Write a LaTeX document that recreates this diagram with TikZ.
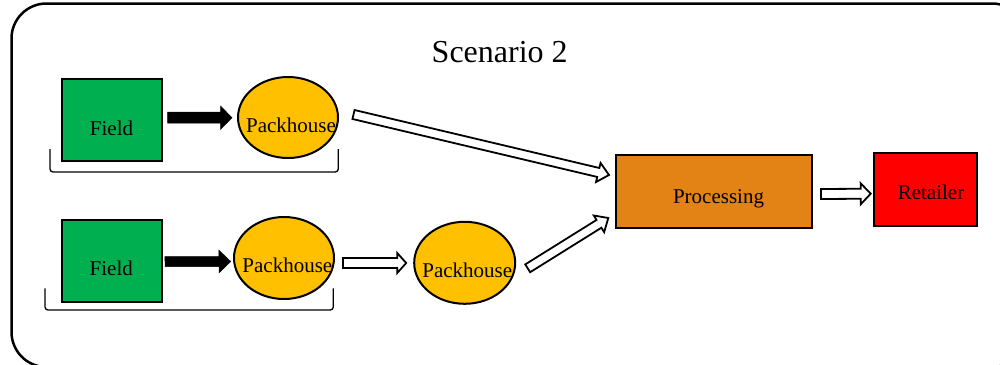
\documentclass[tikz,border=0pt]{standalone}
\usepackage{fontspec}
\setmainfont{Liberation Serif}
\usetikzlibrary{calc,shapes.geometric}
\definecolor{fieldgreen}{RGB}{0,176,80}
\definecolor{packyellow}{RGB}{255,192,0}
\definecolor{procorange}{RGB}{227,131,21}
\definecolor{retred}{RGB}{255,0,0}
% block arrow: [style]{tail}{tip}{body half width}{head half width}{head length}
\newcommand\blockarrow[6][]{%
  \coordinate (bahead) at ($(#3)!#6!(#2)$);
  \draw[#1] ($(#2)!#4!90:(#3)$) -- ($(bahead)!#4!90:(#3)$) -- ($(bahead)!#5!90:(#3)$)
    -- (#3) -- ($(bahead)!#5!-90:(#3)$) -- ($(bahead)!#4!-90:(#3)$)
    -- ($(#2)!#4!-90:(#3)$) -- cycle;
}
\begin{document}
\begin{tikzpicture}[x=1pt,y=-1pt,
  box/.style={draw=black, line width=2pt, rectangle, inner sep=0pt},
  fieldbox/.style={box, fill=fieldgreen, minimum width=100pt, minimum height=82pt},
  packnode/.style={draw=black, line width=2pt, ellipse, inner sep=0pt, fill=packyellow},
  txt/.style={inner sep=0pt, anchor=base, font=\fontsize{21}{24}\selectfont},
  blackarrow/.style={fill=black, draw=black, line width=0.5pt, line join=miter},
  whitearrow/.style={fill=white, draw=black, line width=1.8pt, line join=miter},
  bracket/.style={draw=black, line width=1.3pt, rounded corners=3pt}]
\useasboundingbox (0,0) rectangle (1000,364);
\clip (0,0) rectangle (1000,364);
% frame
\draw[line width=2.5pt, rounded corners=35pt] (11.5,3.5) rectangle (1027,367);
% title
\node[txt, font=\fontsize{32}{36}\selectfont] (title) at (499.7,62.3) {Scenario 2};
% shapes
\node[fieldbox] (fd1) at (111.5,120) {};
\node[packnode, minimum width=100pt, minimum height=81pt] (pk1) at (288,117.5) {};
\node[fieldbox] (fd2) at (111.7,261) {};
\node[packnode, minimum width=100pt, minimum height=82pt] (pk2) at (284,258) {};
\node[packnode, minimum width=101pt, minimum height=82pt] (pk3) at (464.7,262.8) {};
\node[box, fill=procorange, minimum width=196pt, minimum height=73pt] (proc) at (714,191.5) {};
\node[box, fill=retred, minimum width=103pt, minimum height=73pt] (ret) at (925.5,189.3) {};
% labels
\node[txt] (fd1t) at ($(fd1.center)+(0,15)$) {Field};
\node[txt] (fd2t) at ($(fd2.center)+(-0.4,14)$) {Field};
\node[txt] (pk1t) at ($(pk1.center)+(3,15.2)$) {Packhouse};
\node[txt] (pk2t) at ($(pk2.center)+(3.4,14.7)$) {Packhouse};
\node[txt] (pk3t) at ($(pk3.center)+(2.6,14.5)$) {Packhouse};
\node[txt] (proct) at ($(proc.center)+(4.5,11.8)$) {Processing};
\node[txt] (rett) at ($(ret.center)+(5.5,10)$) {Retailer};
% brackets
\coordinate (b1a) at (50,149);
\coordinate (b1b) at (50,172);
\coordinate (b1c) at (338.3,172);
\coordinate (b1d) at (338.3,149);
\draw[bracket] (b1a) -- (b1b) -- (b1c) -- (b1d);
\coordinate (b2a) at (45,288.3);
\coordinate (b2b) at (45,310);
\coordinate (b2c) at (333.3,310);
\coordinate (b2d) at (333.3,288.3);
\draw[bracket] (b2a) -- (b2b) -- (b2c) -- (b2d);
% arrow end points
\coordinate (a1s) at ($(fd1.east)+(5,-2.3)$);
\coordinate (a1e) at ($(pk1.west)+(-5,0.2)$);
\coordinate (a2s) at ($(fd2.east)+(2.3,0.7)$);
\coordinate (a2e) at ($(pk2.west)+(-2.3,3.5)$);
\coordinate (a3s) at ($(pk2.east)+(8,5)$);
\coordinate (a3e) at ($(pk3.west)+(-7,0.2)$);
\coordinate (a4s) at ($(pk1.east)+(14.5,-3)$);
\coordinate (a4e) at ($(proc.west)+(-6,-16.5)$);
\coordinate (a5s) at ($(pk3.east)+(11.5,5.5)$);
\coordinate (a5e) at ($(proc.west)+(-6.7,26.5)$);
\coordinate (a6s) at ($(proc.east)+(8,2.5)$);
\coordinate (a6e) at ($(ret.west)+(-2.3,4.4)$);
% arrows
\blockarrow[blackarrow]{a1s}{a1e}{5.5pt}{11.5pt}{11.3pt}
\blockarrow[blackarrow]{a2s}{a2e}{5pt}{11.3pt}{11.7pt}
\blockarrow[whitearrow]{a3s}{a3e}{5pt}{10pt}{9pt}
\blockarrow[whitearrow]{a4s}{a4e}{4.6pt}{9.8pt}{11pt}
\blockarrow[whitearrow]{a5s}{a5e}{4.6pt}{9.8pt}{11pt}
\blockarrow[whitearrow]{a6s}{a6e}{5pt}{10.5pt}{10pt}
\end{tikzpicture}
\end{document}
